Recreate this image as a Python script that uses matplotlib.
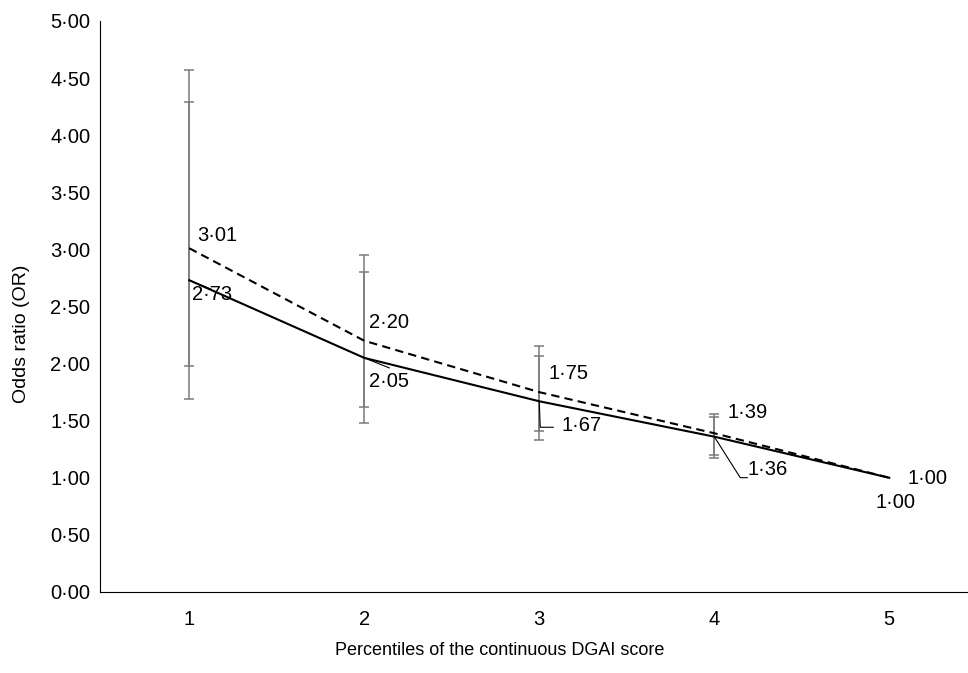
import matplotlib
matplotlib.use("Agg")
import matplotlib.pyplot as plt
import numpy as np

plt.rcParams['font.family'] = ['Liberation Sans', 'DejaVu Sans']

# datos
percentiles = [1, 2, 3, 4, 5]
or_ajustado = [3.01, 2.20, 1.75, 1.39, 1.00]      # línea discontinua
ic_ajustado_inf = [1.98, 1.62, 1.41, 1.20, 1.00]
ic_ajustado_sup = [4.57, 2.95, 2.15, 1.56, 1.00]
or_crudo = [2.73, 2.05, 1.67, 1.36, 1.00]         # línea continua
ic_crudo_inf = [1.69, 1.48, 1.33, 1.17, 1.00]
ic_crudo_sup = [4.29, 2.80, 2.07, 1.53, 1.00]
yticks = [0, 0.5, 1, 1.5, 2, 2.5, 3, 3.5, 4, 4.5, 5]

# desplazamientos de las etiquetas (en píxeles)
off_ajustado = [(8, 13), (5, 18), (9, 19), (13, 21), (18, -1)]
off_crudo = [(3, -14), (5, -24), (22, -24), (33, -33), (-14, -25)]
# líneas guía de las etiquetas del OR crudo (píxeles relativos al punto)
guias = [[(0, 0), (22, -9)], [(0, 0), (25, -10)],
         [(0, 0), (1, -26), (14, -26)], [(0, 0), (26, -41), (33, -41)], None]


def fmt(v):
    return f"{v:.2f}".replace(".", "\u00b7")


fig = plt.figure(figsize=(9.68, 6.73), dpi=100)
ax = fig.add_axes([0.1033, 0.1204, 0.8967, 0.8484])
ax.set_xlim(0.49, 5.45)
ax.set_ylim(0, 5)

x = np.array(percentiles)
gris = "#7a7a7a"
for lo, hi, val in [(ic_ajustado_inf, ic_ajustado_sup, or_ajustado),
                    (ic_crudo_inf, ic_crudo_sup, or_crudo)]:
    val = np.array(val)
    err = np.vstack([val - np.array(lo), np.array(hi) - val])
    ax.errorbar(x[:4], val[:4], yerr=err[:, :4], fmt="none", ecolor=gris,
                elinewidth=1.1, capsize=3.5, capthick=1.1, zorder=1)

ax.plot(x, or_ajustado, color="black", lw=1.5, ls=(0, (4, 2.5)), zorder=3)
ax.plot(x, or_crudo, color="black", lw=1.5, zorder=3)

fs = 14.5
px = 0.72  # puntos por píxel
for xi, v, (dx, dy) in zip(x, or_ajustado, off_ajustado):
    ax.annotate(fmt(v), (xi, v), xytext=(dx * px, dy * px),
                textcoords="offset points", ha="left", va="center", fontsize=fs)
for xi, v, (dx, dy), g in zip(x, or_crudo, off_crudo, guias):
    ax.annotate(fmt(v), (xi, v), xytext=(dx * px, dy * px),
                textcoords="offset points", ha="left", va="center", fontsize=fs)
    if g is not None:
        trans = ax.transData
        x0, y0 = trans.transform((xi, v))
        pts = np.array([[x0 + a, y0 + b] for a, b in g])
        d = trans.inverted().transform(pts)
        ax.plot(d[:, 0], d[:, 1], color="black", lw=0.8, zorder=4)

ax.set_xticks(percentiles)
ax.set_yticks(yticks)
ax.set_yticklabels([fmt(t) for t in yticks])
ax.tick_params(axis="both", length=0, labelsize=fs)
ax.tick_params(axis="y", pad=7)
ax.tick_params(axis="x", pad=13)
ax.spines["top"].set_visible(False)
ax.spines["right"].set_visible(False)
ax.set_xlabel("Percentiles of the continuous DGAI score", fontsize=13, va="center")
ax.set_ylabel("Odds ratio (OR)", fontsize=14, va="center")
ax.xaxis.set_label_coords(0.46, -0.102)
ax.yaxis.set_label_coords(-0.0899, 0.452)

fig.savefig("out.png", dpi=100)
